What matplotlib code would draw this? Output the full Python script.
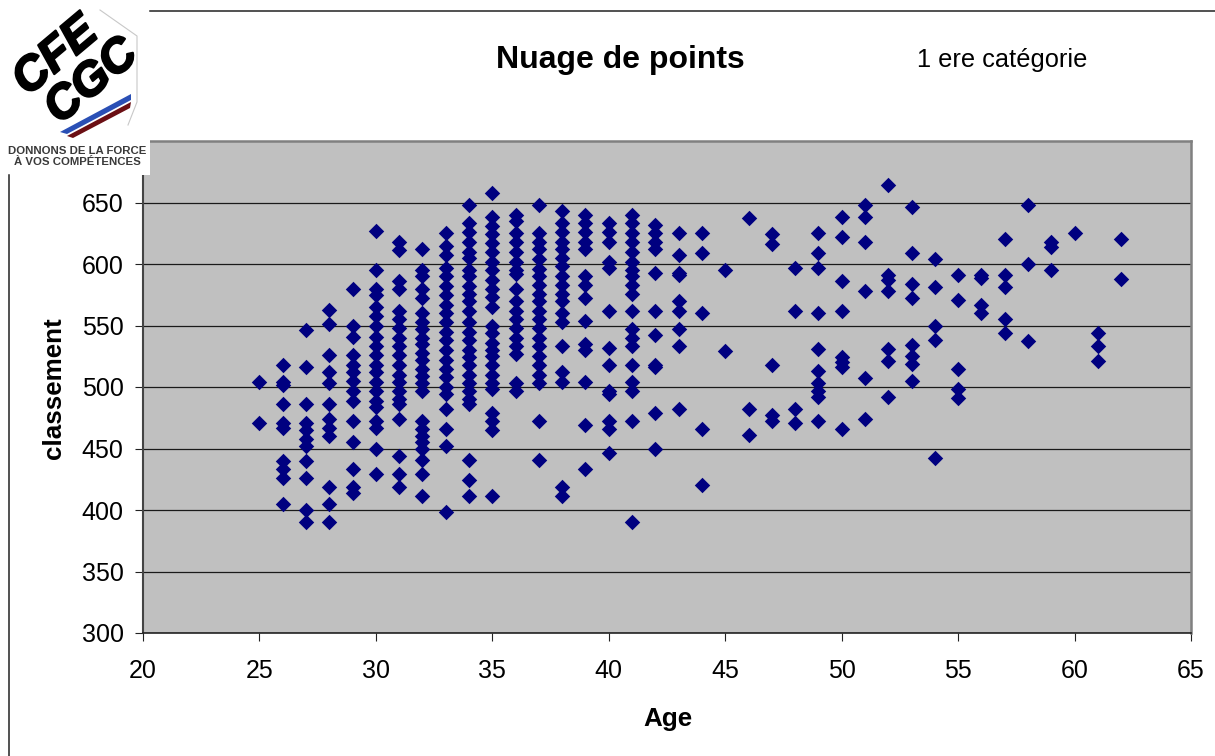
import matplotlib
matplotlib.use("Agg")
import matplotlib.pyplot as plt
import matplotlib.patheffects as pe
from matplotlib.patches import Polygon, Rectangle

plt.rcParams['font.family'] = ['Liberation Sans', 'DejaVu Sans']

title = "Nuage de points"
subtitle = "1 ere catégorie"
xlabel = "Age"
ylabel = "classement"
xticks = [20, 25, 30, 35, 40, 45, 50, 55, 60, 65]
yticks = [300, 350, 400, 450, 500, 550, 600, 650]

age25 = [504, 471]
age26 = [518, 504, 502, 486, 471, 467, 440, 433, 426, 405]
age27 = [546, 516, 486, 471, 465, 458, 452, 440, 426, 400, 390]
age28 = [563, 551, 526, 512, 503, 486, 474, 467, 460, 419, 405, 390]
age29 = [580, 550, 541, 526, 518, 512, 505, 497, 489, 472, 455, 433, 419, 414]
age30 = [627, 595, 580, 575, 565, 558, 550, 541, 533, 526, 518, 512, 504, 497, 489, 484, 472, 467, 450, 429]
age31 = [618, 611, 586, 580, 562, 555, 548, 540, 533, 526, 518, 510, 504, 497, 490, 486, 474, 444, 429, 419]
age32 = [612, 595, 590, 580, 572, 560, 553, 547, 540, 535, 528, 522, 515, 509, 503, 497, 472, 466, 460, 455, 450, 441, 429, 411]
age33 = [625, 615, 607, 597, 590, 582, 575, 567, 560, 553, 545, 538, 530, 522, 515, 508, 500, 494, 482, 466, 452, 398]
age34 = [648, 633, 626, 618, 610, 605, 595, 590, 582, 576, 570, 562, 553, 545, 538, 530, 524, 518, 510, 503, 497, 490, 486, 441, 424, 411]
age35 = [658, 638, 631, 624, 617, 610, 602, 595, 587, 580, 573, 565, 550, 544, 536, 530, 525, 518, 510, 503, 498, 479, 472, 465, 411]
age36 = [640, 635, 625, 618, 610, 602, 595, 592, 580, 570, 562, 555, 548, 540, 533, 527, 503, 497]
age37 = [648, 625, 618, 612, 604, 596, 590, 583, 576, 570, 562, 555, 548, 540, 533, 525, 518, 510, 503, 472, 441]
age38 = [643, 633, 626, 618, 612, 605, 598, 590, 583, 576, 570, 560, 553, 533, 512, 504, 419, 411]
age39 = [640, 633, 626, 618, 612, 590, 583, 572, 554, 535, 530, 504, 469, 433]
age40 = [633, 626, 618, 602, 597, 562, 532, 518, 497, 494, 472, 466, 446]
age41 = [640, 633, 625, 618, 610, 602, 595, 590, 583, 576, 562, 547, 540, 533, 518, 504, 497, 472, 390]
age42 = [632, 625, 618, 612, 593, 562, 542, 518, 516, 479, 450]
age43 = [625, 607, 593, 591, 570, 562, 547, 533, 482]
age44 = [625, 609, 560, 466, 420]
age45 = [595, 529]
age46 = [637, 482, 461]
age47 = [624, 616, 518, 477, 472]
age48 = [597, 562, 482, 471]
age49 = [625, 609, 597, 560, 531, 513, 503, 497, 492, 472]
age50 = [638, 622, 586, 562, 524, 520, 516, 466]
age51 = [648, 638, 618, 578, 507, 474]
age52 = [664, 591, 587, 578, 531, 521, 492]
age53 = [646, 609, 584, 572, 534, 525, 519, 505]
age54 = [604, 581, 550, 538, 442]
age55 = [591, 571, 515, 498, 491]
age56 = [591, 589, 567, 560]
age57 = [620, 591, 581, 555, 544]
age58 = [648, 600, 537]
age59 = [618, 614, 595]
age60 = [625]
age61 = [544, 533, 521]
age62 = [620, 588]

ages = list(range(25, 63))
columns = [age25, age26, age27, age28, age29, age30, age31, age32, age33, age34,
           age35, age36, age37, age38, age39, age40, age41, age42, age43, age44,
           age45, age46, age47, age48, age49, age50, age51, age52, age53, age54,
           age55, age56, age57, age58, age59, age60, age61, age62]

W, H = 1215, 756
fig = plt.figure(figsize=(W / 100, H / 100), dpi=100, facecolor='white')
ax = fig.add_axes([143 / W, 1 - 633 / H, (1191 - 143) / W, (633 - 141) / H])
ax.set_facecolor('#C0C0C0')
ax.set_xlim(20, 65)
ax.set_ylim(300, 700)
ax.set_xticks(xticks)
ax.set_yticks(yticks)
ax.grid(axis='y', color='#1a1a1a', lw=0.9)
ax.set_axisbelow(True)
for age, col in zip(ages, columns):
    ax.scatter([age] * len(col), col, marker='D', s=62, color='#000080',
               linewidths=0, zorder=3, clip_on=False)
ax.tick_params(labelsize=18, length=6, width=0.8, color='#222222', pad=8)
ax.tick_params(axis='x', pad=12.5)
for side in ['top', 'right']:
    ax.spines[side].set_color('#808080')
    ax.spines[side].set_linewidth(1.8)
ax.spines['left'].set_color('#444444')
ax.spines['left'].set_linewidth(1.5)
ax.spines['bottom'].set_color('#222222')
ax.spines['bottom'].set_linewidth(1.2)

# overlay in pixel coordinates: frame, headers and logo
ov = fig.add_axes([0, 0, 1, 1], zorder=10)
ov.set_xlim(0, W)
ov.set_ylim(H, 0)
ov.axis('off')
ov.plot([150, W], [11, 11], color='#222222', lw=1.1)
ov.plot([9, 9], [175, H], color='#222222', lw=1.1)
ov.text(620.5, 60, title, fontsize=23, fontweight='bold', ha='center', va='center')
ov.text(1002, 60, subtitle, fontsize=18.3, ha='center', va='center')
ov.text(668, 719, xlabel, fontsize=18.7, fontweight='bold', ha='center', va='center')
ov.text(53.5, 388, ylabel, fontsize=18.7, fontweight='bold', ha='center', va='center',
        rotation=90)

ov.add_patch(Rectangle((0, 12), 150, 163, color='white', lw=0, zorder=1))
ov.plot([100, 137, 137, 128], [10, 36, 102, 125], color='#C8C8C8', lw=0.8, zorder=2)
heavy = [pe.withStroke(linewidth=1.6, foreground='black')]
ov.text(56, 57, "CFE", fontsize=34, fontweight='bold', style='italic', rotation=40,
        ha='center', va='center', color='black', zorder=3, path_effects=heavy)
ov.text(92, 82, "CGC", fontsize=34, fontweight='bold', style='italic', rotation=40,
        ha='center', va='center', color='black', zorder=3, path_effects=heavy)
ov.add_patch(Polygon([[60, 132], [131, 94], [131, 100], [67, 134]], color='#2A4FB5', lw=0, zorder=3))
ov.add_patch(Polygon([[67, 136], [131, 102], [130, 108], [73, 138]], color='#6B0F14', lw=0, zorder=3))
ov.text(77.5, 151, "DONNONS DE LA FORCE", fontsize=8.2, fontweight='bold', ha='center',
        va='center', color='#3a3a3a', zorder=3)
ov.text(77.5, 162, "À VOS COMPÉTENCES", fontsize=8.2, fontweight='bold', ha='center',
        va='center', color='#3a3a3a', zorder=3)

fig.savefig('out.png', dpi=100, facecolor='white')
